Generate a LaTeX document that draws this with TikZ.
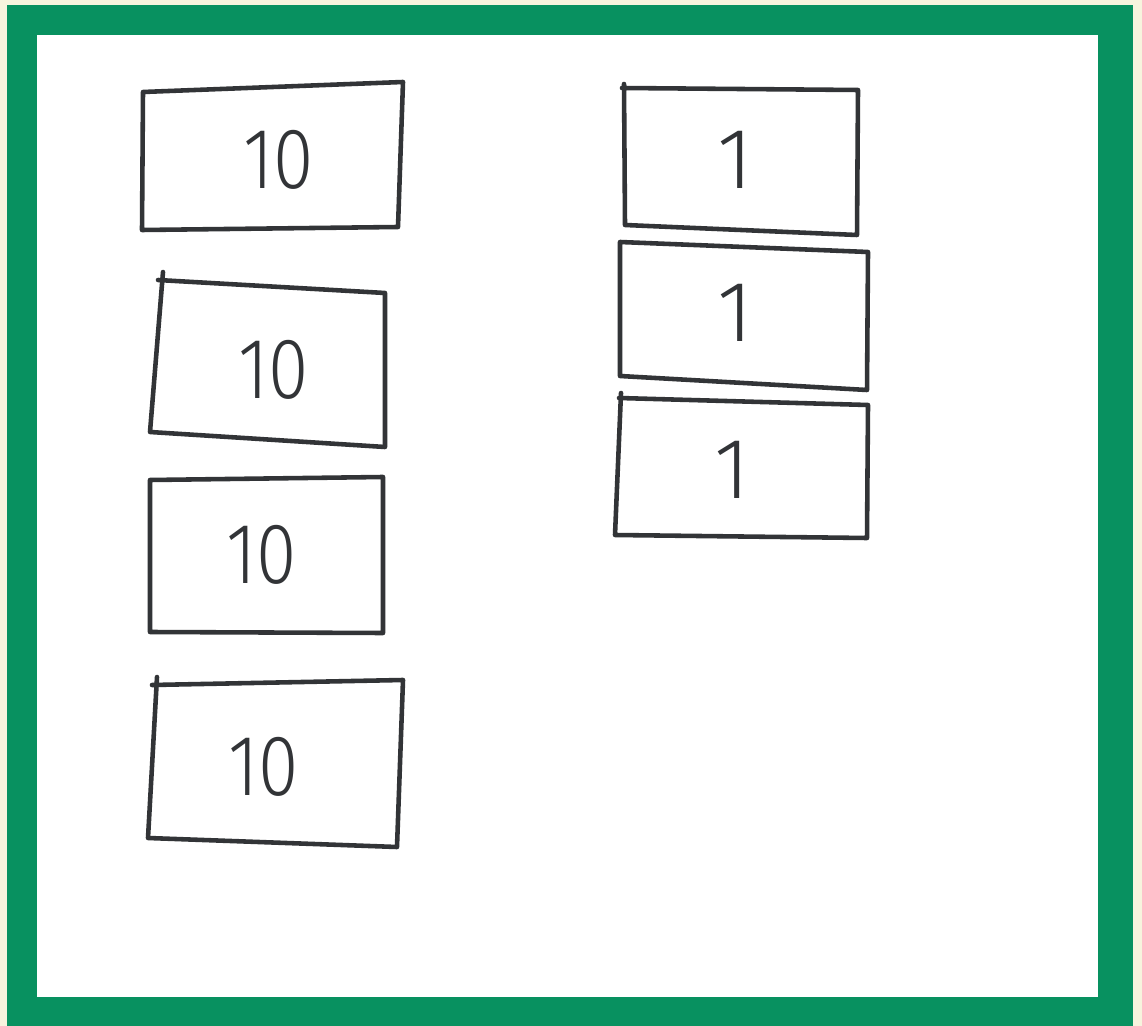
\documentclass[tikz,border=0pt]{standalone}
\usepackage{graphicx}
\usepackage{fontspec}
\IfFontExistsTF{Fira Sans Light}{\newfontfamily\digitfont{Fira Sans Light}}{\newfontfamily\digitfont{Fira Sans}}

\definecolor{boardgreen}{RGB}{8,145,96}
\definecolor{paper}{RGB}{247,244,222}
\definecolor{pen}{RGB}{50,52,55}

\begin{document}
\begin{tikzpicture}[x=0.02cm, y=-0.02cm,
            card/.style={draw=pen, line width=2.6pt, line join=round, line cap=round},
            value/.style={font=\digitfont\fontsize{49}{49}\selectfont, text=pen, inner sep=0pt}
        ]
            \useasboundingbox (0,0) rectangle (1142,1026);

            % Paper and green frame
            \fill[paper] (0,0) rectangle (1142,1026);
            \fill[boardgreen] (7,5) rectangle (1133,1026);
            \fill[white] (37,35) rectangle (1098,997);

            % Tens
            \draw[card] (143,92) -- (403,82) -- (398,227) -- (142,230) -- cycle;
            \draw[card] (163,272) -- (150,432) -- (385,447) -- (385,293) -- (158,280);
            \draw[card] (150,480) -- (383,477) -- (383,633) -- (150,632) -- cycle;
            \draw[card] (157,677) -- (148,838) -- (397,847) -- (403,680) -- (152,685);

            \node[value] (ten1) at (279,160) {\scalebox{0.85}[1]{10}};
            \node[value] (ten2) at (274,370) {\scalebox{0.85}[1]{10}};
            \node[value] (ten3) at (262,555) {\scalebox{0.85}[1]{10}};
            \node[value] (ten4) at (264,767) {\scalebox{0.85}[1]{10}};

            % Ones
            \draw[card] (624,84) -- (625,225) -- (857,235) -- (858,90) -- (622,88);
            \draw[card] (620,242) -- (868,252) -- (867,390) -- (620,376) -- cycle;
            \draw[card] (621,393) -- (615,535) -- (867,538) -- (868,405) -- (619,398);

            \node[value] (one1) at (735,160) {1};
            \node[value] (one2) at (735,313) {1};
            \node[value] (one3) at (732,470) {1};
        \end{tikzpicture}
\end{document}
